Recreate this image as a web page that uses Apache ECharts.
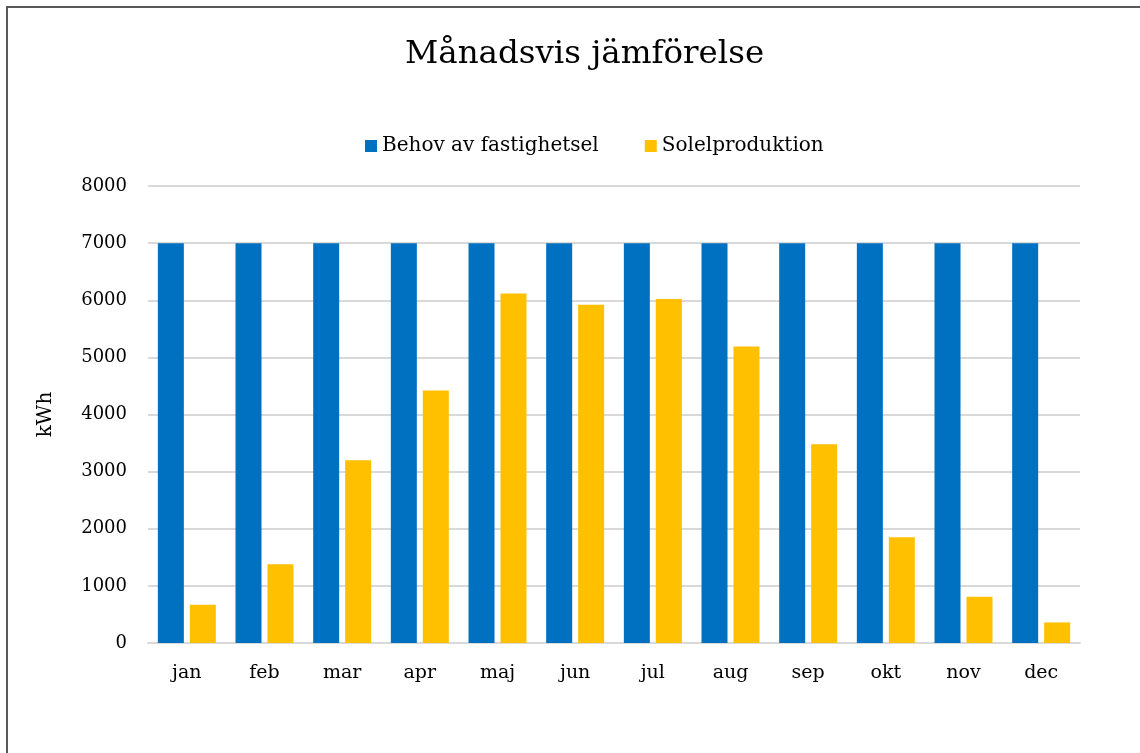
<!DOCTYPE html>
<html>
<head>
<meta charset="utf-8">
<script src="https://cdn.jsdelivr.net/npm/echarts@6/dist/echarts.min.js"></script>
<style>
  html, body { margin: 0; padding: 0; background: #fff; }
  #chart { width: 1140px; height: 753px; }
</style>
</head>
<body>
<div id="chart"></div>
<script>
// data
const months = ['jan', 'feb', 'mar', 'apr', 'maj', 'jun', 'jul', 'aug', 'sep', 'okt', 'nov', 'dec'];
const behov = [7000, 7000, 7000, 7000, 7000, 7000, 7000, 7000, 7000, 7000, 7000, 7000];
const solel = [670, 1380, 3200, 4420, 6120, 5920, 6020, 5190, 3480, 1850, 810, 360];

const font = "'DejaVu Serif', Georgia, serif";

const chart = echarts.init(document.getElementById('chart'));
chart.setOption({
  animation: false,
  textStyle: { fontFamily: font, color: '#000' },
  title: {
    text: 'Månadsvis jämförelse',
    left: 400,
    top: 33,
    textStyle: { fontFamily: font, fontSize: 32.5, fontWeight: 'normal', color: '#000' }
  },
  // ram runt bilden
  graphic: [{
    type: 'rect',
    shape: { x: 7, y: 7, width: 1200, height: 800 },
    style: { fill: 'none', stroke: '#595959', lineWidth: 2 }
  }],
  legend: {
    top: 131,
    left: 360,
    itemWidth: 12,
    itemHeight: 12,
    itemGap: 46,
    icon: 'rect',
    textStyle: { fontFamily: font, fontSize: 20, color: '#000' }
  },
  grid: { left: 148, right: 60, top: 186, bottom: 110 },
  xAxis: {
    type: 'category',
    data: months,
    axisTick: { show: false },
    axisLine: { lineStyle: { color: '#d9d9d9', width: 2 } },
    axisLabel: { fontFamily: font, fontSize: 19, color: '#000', margin: 21 }
  },
  yAxis: {
    type: 'value',
    min: 0,
    max: 8000,
    interval: 1000,
    name: 'kWh',
    nameLocation: 'middle',
    nameGap: 92,
    nameTextStyle: { fontFamily: font, fontSize: 20, color: '#000' },
    axisLabel: { fontFamily: font, fontSize: 18, color: '#000', margin: 21, formatter: v => String(v) },
    splitLine: { lineStyle: { color: '#d9d9d9', width: 2 } }
  },
  series: [
    {
      name: 'Behov av fastighetsel',
      type: 'bar',
      data: behov,
      barWidth: 26,
      barGap: '23%',
      itemStyle: { color: '#0070c0' }
    },
    {
      name: 'Solelproduktion',
      type: 'bar',
      data: solel,
      barWidth: 26,
      itemStyle: { color: '#ffc000' }
    }
  ]
});
</script>
</body>
</html>
